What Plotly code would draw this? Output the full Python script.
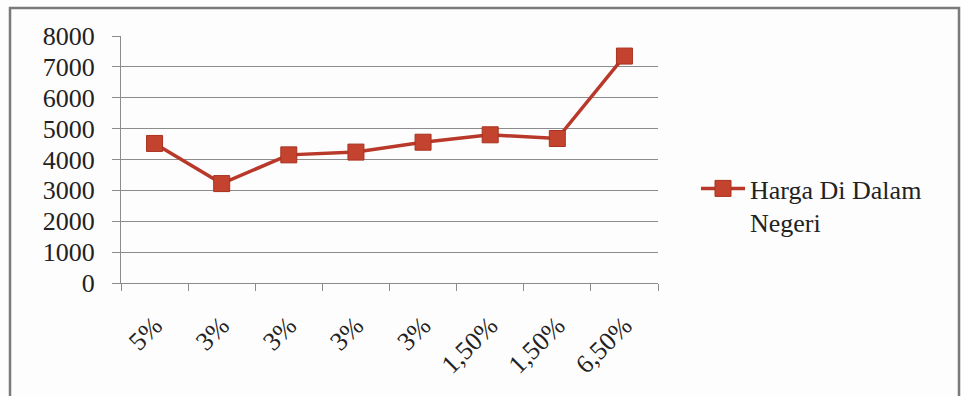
import plotly.graph_objects as go

categories = ["5%", "3%", "3%", "3%", "3%", "1,50%", "1,50%", "6,50%"]
values = [4520, 3220, 4150, 4240, 4560, 4800, 4680, 7350]
series_name = "Harga Di Dalam<br>Negeri"
y_ticks = [0, 1000, 2000, 3000, 4000, 5000, 6000, 7000, 8000]

x_pos = list(range(len(categories)))
boundaries = [i - 0.5 for i in range(len(categories) + 1)]

FONT = "Liberation Serif"
FS = 26
GRID = "#8c8c8c"
LINE_COLOR = "#b8392a"
MARKER_COLOR = "#c4432f"

fig = go.Figure()
fig.add_trace(go.Scatter(
    x=x_pos, y=values, mode="lines+markers", name=series_name,
    line=dict(color=LINE_COLOR, width=3.5),
    marker=dict(symbol="square", size=16, color=MARKER_COLOR,
                line=dict(color="#a8321f", width=1)),
))

W, H = 961, 396
L, R, T, B = 121, 303, 36, 113
pw, ph = W - L - R, H - T - B

def px2paper_x(px):
    return (px - L) / pw

def px2paper_y(py):
    return (H - B - py) / ph

fig.update_layout(
    width=W, height=H,
    margin=dict(l=L, r=R, t=T, b=B),
    paper_bgcolor="#fdfdfd",
    plot_bgcolor="rgba(0,0,0,0)",
    font=dict(family=FONT, size=FS, color="#222222"),
    showlegend=True,
    legend=dict(
        x=px2paper_x(696), y=px2paper_y(165), xanchor="left", yanchor="top",
        bgcolor="rgba(0,0,0,0)", valign="top",
        font=dict(family=FONT, size=FS, color="#222222"),
        itemwidth=44,
    ),
    xaxis=dict(
        range=[-0.5, len(categories) - 0.5],
        tickmode="array", tickvals=x_pos, ticktext=categories,
        ticks="", tickangle=-45, ticklabelstandoff=16,
        showline=True, linecolor=GRID, linewidth=1.2,
        showgrid=False, zeroline=False,
        minor=dict(tickmode="array", tickvals=boundaries, ticks="outside",
                   ticklen=7, tickcolor=GRID, tickwidth=1.2, showgrid=False),
        tickfont=dict(family=FONT, size=FS, color="#222222"),
        fixedrange=True,
    ),
    yaxis=dict(
        range=[0, 8000], tickmode="array", tickvals=y_ticks,
        ticks="outside", ticklen=8, tickcolor=GRID, tickwidth=1.2,
        ticklabelstandoff=12,
        showline=True, linecolor=GRID, linewidth=1.2,
        showgrid=True, gridcolor=GRID, gridwidth=1.2, zeroline=False,
        tickfont=dict(family=FONT, size=FS, color="#222222"),
        fixedrange=True,
    ),
    shapes=[
        dict(type="rect", xref="paper", yref="paper",
             x0=px2paper_x(10), x1=px2paper_x(959),
             y0=px2paper_y(420), y1=px2paper_y(8),
             line=dict(color="#7a7a7a", width=2.5), fillcolor="rgba(0,0,0,0)",
             layer="below"),
    ],
)

fig.write_html("out.html")
